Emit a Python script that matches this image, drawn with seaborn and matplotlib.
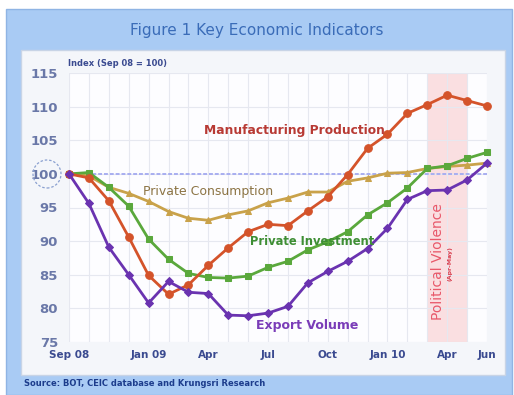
import numpy as np
import pandas as pd
import matplotlib
matplotlib.use("Agg")
import matplotlib.pyplot as plt
from matplotlib.patches import Rectangle, Ellipse
import seaborn as sns

# Monthly index, Sep 2008 = 100 (Sep 08 .. Jun 10)
months = ["Sep 08", "Oct 08", "Nov 08", "Dec 08", "Jan 09", "Feb 09", "Mar 09",
          "Apr 09", "May 09", "Jun 09", "Jul 09", "Aug 09", "Sep 09", "Oct 09",
          "Nov 09", "Dec 09", "Jan 10", "Feb 10", "Mar 10", "Apr 10", "May 10",
          "Jun 10"]
export_volume = [100.0, 95.6, 89.1, 85.0, 80.8, 84.0, 82.4, 82.2, 79.0, 78.9,
                 79.3, 80.3, 83.8, 85.5, 87.0, 88.9, 91.9, 96.2, 97.5, 97.6,
                 99.1, 101.6]
manufacturing = [100.0, 99.4, 96.0, 90.6, 84.9, 82.1, 83.5, 86.4, 89.0, 91.4,
                 92.5, 92.3, 94.5, 96.6, 99.9, 103.8, 105.9, 109.0, 110.3,
                 111.7, 110.9, 110.1]
investment = [100.0, 100.2, 98.0, 95.2, 90.3, 87.3, 85.2, 84.6, 84.5, 84.8,
              86.1, 87.0, 88.7, 89.9, 91.4, 93.9, 95.7, 97.9, 100.8, 101.2,
              102.3, 103.2]
consumption = [100.0, 99.7, 98.0, 97.1, 95.9, 94.4, 93.4, 93.1, 93.9, 94.5,
               95.7, 96.4, 97.3, 97.3, 98.9, 99.4, 100.1, 100.2, 100.8, 101.1,
               101.3, 101.6]

tick_pos = [0, 4, 7, 10, 13, 16, 19, 21]
tick_labels = ["Sep 08", "Jan 09", "Apr", "Jul", "Oct", "Jan 10", "Apr", "Jun"]
y_ticks = [75, 80, 85, 90, 95, 100, 105, 110, 115]

idx = np.arange(len(months))
df = pd.DataFrame({
    "t": np.tile(idx, 4),
    "value": consumption + investment + manufacturing + export_volume,
    "series": (["Private Consumption"] * len(idx) + ["Private Investment"] * len(idx)
               + ["Manufacturing Production"] * len(idx) + ["Export Volume"] * len(idx)),
})

styles = {
    "Private Consumption": ("#c9a24a", "^", 5),
    "Private Investment": ("#5aa83c", "s", 5),
    "Manufacturing Production": ("#d4532a", "o", 5.5),
    "Export Volume": ("#6a33b0", "D", 4.5),
}

sns.set_theme(style="white")
plt.rcParams["font.family"] = ["DejaVu Sans"]

W, H = 514, 395
fig = plt.figure(figsize=(W / 100, H / 100), dpi=100)
fig.patch.set_facecolor("white")

def fx(px):
    return px / W

def fy(py):
    return 1 - py / H

# blue frame and inner panel
fig.add_artist(Rectangle((fx(6), fy(395)), fx(506), 386 / H, transform=fig.transFigure,
                         facecolor="#a9cbf4", edgecolor="#8fb4e4", lw=1, zorder=0))
fig.add_artist(Rectangle((fx(21), fy(375)), fx(484), 325 / H, transform=fig.transFigure,
                         facecolor="#f4f6fa", edgecolor="#c8d4e6", lw=1, zorder=0.5))

ax = fig.add_axes([fx(69), fy(342), fx(487 - 69), (342 - 73) / H])
ax.set_facecolor("#fdfdff")
ax.set_zorder(1)

# political violence window
ax.axvspan(18, 20, color="#f9d6d8", alpha=0.75, lw=0, zorder=0)
ax.text(18.55, 87.0, "Political Violence", rotation=90, color="#e8586a",
        fontsize=10, ha="center", va="center", zorder=1)
ax.text(19.15, 86.6, "(Apr-May)", rotation=90, color="#d84050",
        fontsize=4.5, fontweight="bold", ha="center", va="center", zorder=1)

# light grid: monthly verticals, 5-point horizontals
for i in idx:
    ax.axvline(i, color="#e6e8f0", lw=0.8, zorder=0.5)
for y in y_ticks:
    ax.axhline(y, color="#e6e8f0", lw=0.8, zorder=0.5)
ax.axhline(100, color="#a8aef0", lw=1.4, ls=(0, (2, 1)), zorder=1)

for name, (col, mk, ms) in styles.items():
    sub = df[df["series"] == name]
    sns.lineplot(data=sub, x="t", y="value", ax=ax, color=col, lw=2.0,
                 marker=mk, markersize=ms, markeredgecolor=col, legend=False,
                 zorder=3, clip_on=False)

ax.set_xlim(0, 21)
ax.set_ylim(75, 115)
ax.set_xticks(tick_pos)
ax.set_xticklabels(tick_labels, fontsize=7.5, fontweight="bold", color="#3a4a90")
ax.set_yticks(y_ticks)
ax.set_yticklabels([str(v) for v in y_ticks], fontsize=9.5, fontweight="bold",
                   color="#6a78a8")
ax.tick_params(axis="x", length=0, pad=6)
ax.tick_params(axis="y", length=0, pad=8)
ax.set_xlabel("")
ax.set_ylabel("")
for s in ax.spines.values():
    s.set_visible(False)

# series labels
ax.text(6.8, 106.4, "Manufacturing Production", color="#b83a34", fontsize=8.8,
        fontweight="bold", ha="left", va="center", zorder=4)
ax.text(3.7, 97.4, "Private Consumption", color="#8c7444", fontsize=9,
        ha="left", va="center", zorder=4)
ax.text(9.1, 89.9, "Private Investment", color="#3e8e34", fontsize=8.3,
        fontweight="bold", ha="left", va="center", zorder=4)
ax.text(9.4, 77.5, "Export Volume", color="#7a3cb8", fontsize=9,
        fontweight="bold", ha="left", va="center", zorder=4)

# titles and notes
fig.text(0.5, fy(30), "Figure 1 Key Economic Indicators", color="#3a6cb8",
         fontsize=11, ha="center", va="center")
fig.text(fx(68), fy(64), "Index (Sep 08 = 100)", color="#3a4a90", fontsize=6,
         fontweight="bold", ha="left", va="center")
fig.text(fx(24), fy(384), "Source: BOT, CEIC database and Krungsri Research",
         color="#1c3c8c", fontsize=6, fontweight="bold", ha="left", va="center")

# dashed ring around the base value
fig.add_artist(Ellipse((fx(47), fy(174)), 28 / W, 28 / H, transform=fig.transFigure,
                       fill=False, ec="#8aa0d0", lw=0.9, ls=(0, (2, 1.5)), zorder=2))

fig.savefig("out.png", dpi=100)
